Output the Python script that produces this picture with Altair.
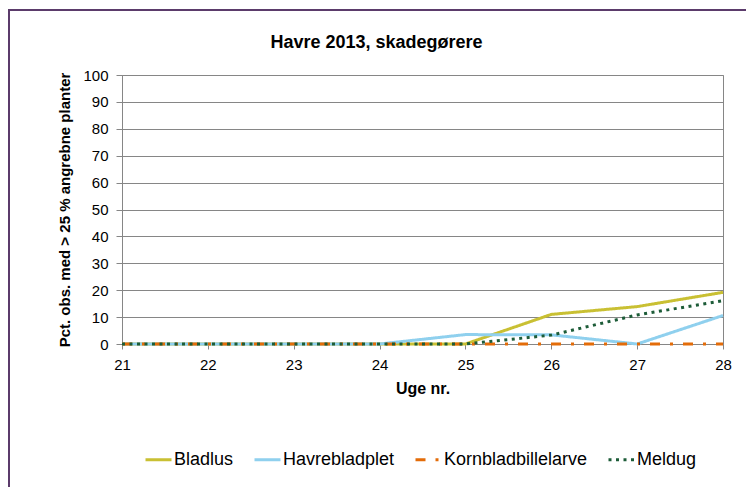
import altair as alt
import pandas as pd

weeks = [21, 22, 23, 24, 25, 26, 27, 28]
series_names = ["Bladlus", "Havrebladplet", "Kornbladbillelarve", "Meldug"]
bladlus = [0, 0, 0, 0, 0, 11.0, 13.9, 19.2]
havrebladplet = [0, 0, 0, 0, 3.5, 3.4, 0, 10.6]
kornbladbillelarve = [0, 0, 0, 0, 0, 0, 0, 0]
meldug = [0, 0, 0, 0, 0, 3.3, 10.8, 16.1]

colors = ["#C9C033", "#8FD0EE", "#E36C09", "#1D5C38"]
dashes = [[1, 0], [1, 0], [10, 10, 3, 10], [3, 4.5]]

rows = []
for name, vals in zip(series_names, [bladlus, havrebladplet, kornbladbillelarve, meldug]):
    for w, v in zip(weeks, vals):
        rows.append({"Uge": w, "Pct": v, "Serie": name})
df = pd.DataFrame(rows)

FONT = "Liberation Sans"

legend_kw = dict(
    title=None,
    orient="none",
    legendX=22,
    legendY=370,
    direction="horizontal",
    symbolType="stroke",
    symbolSize=676,
    symbolStrokeWidth=3,
    labelFontSize=18,
    labelOffset=1,
    columnPadding=14,
    padding=0,
    labelColor="#000000",
)

lines = alt.Chart(df).mark_line(strokeWidth=3).encode(
    x=alt.X(
        "Uge:Q",
        scale=alt.Scale(domain=[21, 28], nice=False, zero=False),
        axis=alt.Axis(
            title="Uge nr.",
            values=weeks,
            format="d",
            grid=False,
            labelFlush=False,
            tickSize=5,
            labelPadding=8,
            titlePadding=8,
            labelFontSize=15,
            titleFontSize=16,
            titleFontWeight="bold",
            domainColor="#868686",
            tickColor="#868686",
            labelColor="#000000",
            titleColor="#000000",
        ),
    ),
    y=alt.Y(
        "Pct:Q",
        scale=alt.Scale(domain=[0, 100], nice=False),
        axis=alt.Axis(
            title="Pct. obs. med > 25 % angrebne planter",
            values=list(range(0, 101, 10)),
            grid=True,
            gridColor="#868686",
            gridWidth=1,
            tickSize=6,
            labelPadding=8,
            titlePadding=10,
            labelFontSize=15,
            titleFontSize=15,
            titleFontWeight="bold",
            domainColor="#868686",
            tickColor="#868686",
            labelColor="#000000",
            titleColor="#000000",
        ),
    ),
    color=alt.Color(
        "Serie:N",
        scale=alt.Scale(domain=series_names, range=colors),
        legend=alt.Legend(**legend_kw),
    ),
    strokeDash=alt.StrokeDash(
        "Serie:N",
        scale=alt.Scale(domain=series_names, range=dashes),
        legend=alt.Legend(**legend_kw),
    ),
)

frame = alt.Chart(pd.DataFrame({"a": [0]})).mark_rect(
    fill=None, stroke="#5B3B6B", strokeWidth=2
).encode(
    x=alt.value(-113),
    x2=alt.value(700),
    y=alt.value(-65),
    y2=alt.value(500),
)

chart = alt.layer(frame, lines).properties(
    width=601,
    height=269,
    autosize=alt.AutoSizeParams(type="none"),
    padding={"left": 114, "top": 67, "right": 23, "bottom": 143},
    title=alt.TitleParams(
        "Havre 2013, skadegørere",
        fontSize=18,
        fontWeight="bold",
        anchor="middle",
        frame="group",
        dx=-46,
        offset=-43,
        color="#000000",
    ),
).configure(
    font=FONT,
    background="#ffffff",
).configure_view(
    stroke="#868686",
    strokeWidth=1,
)

chart.save("out.html", embed_options={"renderer": "svg", "actions": False})
